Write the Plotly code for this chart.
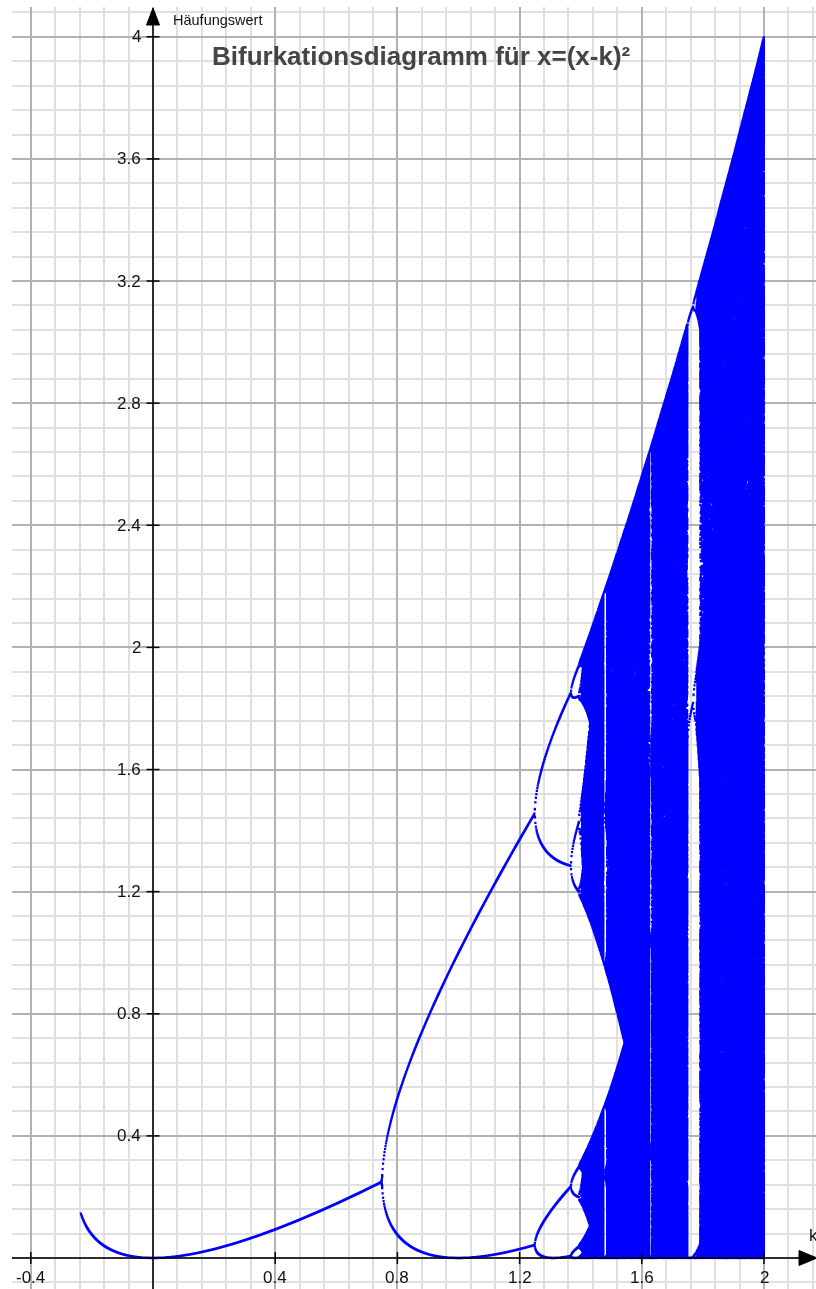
import numpy as np
import plotly.graph_objects as go

# ---------------- data ----------------
# bifurcation diagram of the map x -> (x - k)^2 (as stated in the chart title)
K_START = -0.236
K_END = 1.9995
K_COUNT = 1400
TRANSIENT_STEPS = 1000
KEEP_STEPS = 1600

x_tick_values = [-0.4, 0.4, 0.8, 1.2, 1.6, 2]
x_tick_labels = ["-0.4", "0.4", "0.8", "1.2", "1.6", "2"]
y_tick_values = [0.4, 0.8, 1.2, 1.6, 2, 2.4, 2.8, 3.2, 3.6, 4]
y_tick_labels = ["0.4", "0.8", "1.2", "1.6", "2", "2.4", "2.8", "3.2", "3.6", "4"]

title_text = "Bifurkationsdiagramm für x=(x-k)²"
y_axis_title = "Häufungswert"
x_axis_title = "k"

k_values = np.linspace(K_START, K_END, K_COUNT)
x_state = k_values.copy()          # start at the critical point
for _ in range(TRANSIENT_STEPS):
    x_state = (x_state - k_values) ** 2
orbit = np.empty((KEEP_STEPS, K_COUNT))
for i in range(KEEP_STEPS):
    x_state = (x_state - k_values) ** 2
    orbit[i] = x_state

kk = np.broadcast_to(k_values, orbit.shape).ravel()
xx = orbit.ravel()
# drop points that coincide at screen resolution
key = np.round(kk * 1000).astype(np.int64) * 100000 + np.round(xx * 305.3).astype(np.int64)
_, idx = np.unique(key, return_index=True)
k_pts = kk[idx].astype(np.float32)
x_pts = xx[idx].astype(np.float32)

# ---------------- layout helpers (pixel -> data) ----------------
W, H = 816, 1289
ML, MT = 12, 7
X0, SX = 153.0, 305.5
Y0, SY = 1258.0, 305.3


def px_x(p):
    return (p - X0) / SX


def px_y(p):
    return (Y0 - p) / SY


fig = go.Figure()
fig.add_trace(go.Scattergl(
    x=k_pts, y=x_pts, mode="markers",
    marker=dict(color="#0000ff", size=2.5, symbol="square", line=dict(width=0)),
    hoverinfo="skip", showlegend=False,
))

shapes = []
# axes lines
shapes.append(dict(type="line", xref="x", yref="y", x0=0, x1=0, y0=px_y(H + 5), y1=px_y(20),
                   line=dict(color="black", width=1.5), layer="above"))
shapes.append(dict(type="line", xref="x", yref="y", x0=px_x(ML), x1=px_x(805), y0=0, y1=0,
                   line=dict(color="black", width=1.5), layer="above"))
# arrows
shapes.append(dict(type="path", xref="x", yref="y",
                   path=f"M {px_x(153)} {px_y(8)} L {px_x(159.5)} {px_y(25)} L {px_x(146.5)} {px_y(25)} Z",
                   fillcolor="black", line=dict(color="black", width=1), layer="above"))
shapes.append(dict(type="path", xref="x", yref="y",
                   path=f"M {px_x(817)} {px_y(1258)} L {px_x(799)} {px_y(1250.5)} L {px_x(799)} {px_y(1265.5)} Z",
                   fillcolor="black", line=dict(color="black", width=1), layer="above"))
# tick marks
for v in y_tick_values:
    shapes.append(dict(type="line", xref="x", yref="y", x0=px_x(146.5), x1=px_x(159.5), y0=v, y1=v,
                       line=dict(color="black", width=1.5), layer="above"))
for v in x_tick_values:
    shapes.append(dict(type="line", xref="x", yref="y", x0=v, x1=v, y0=px_y(1252), y1=px_y(1264),
                       line=dict(color="black", width=1.5), layer="above"))

annotations = []
tick_font = dict(family="Liberation Sans, Arial, sans-serif", size=17, color="#111111")
for v, t in zip(y_tick_values, y_tick_labels):
    annotations.append(dict(x=px_x(143), y=v, xref="x", yref="y", text=t, showarrow=False,
                            xanchor="right", yanchor="middle", font=tick_font))
for v, t in zip(x_tick_values, x_tick_labels):
    annotations.append(dict(x=v, y=px_y(1277), xref="x", yref="y", text=t, showarrow=False,
                            xanchor="center", yanchor="middle", font=tick_font))
annotations.append(dict(x=px_x(171), y=px_y(20), xref="x", yref="y", text=y_axis_title, showarrow=False,
                        xanchor="left", yanchor="middle",
                        font=dict(family="Liberation Sans, Arial, sans-serif", size=14.5, color="#111111")))
annotations.append(dict(x=px_x(807), y=px_y(1235), xref="x", yref="y", text=x_axis_title, showarrow=False,
                        xanchor="left", yanchor="middle",
                        font=dict(family="Liberation Sans, Arial, sans-serif", size=17, color="#111111")))
annotations.append(dict(x=px_x(210), y=px_y(56), xref="x", yref="y", text="<b>" + title_text + "</b>",
                        showarrow=False, xanchor="left", yanchor="middle",
                        font=dict(family="Liberation Sans, Arial, sans-serif", size=26, color="#444444")))

axis_common = dict(showticklabels=False, ticks="", zeroline=False, showline=False,
                   gridcolor="#b2b2b2", gridwidth=2, fixedrange=True)
fig.update_layout(
    width=W, height=H,
    margin=dict(l=ML, r=0, t=MT, b=0, pad=0),
    paper_bgcolor="white", plot_bgcolor="white",
    xaxis=dict(range=[px_x(ML), px_x(W)], tick0=0, dtick=0.4,
               minor=dict(tick0=0, dtick=0.08, showgrid=True, gridcolor="#e0e0e0", gridwidth=1.5),
               **axis_common),
    yaxis=dict(range=[px_y(H), px_y(MT)], tick0=0, dtick=0.4,
               minor=dict(tick0=0, dtick=0.08, showgrid=True, gridcolor="#e0e0e0", gridwidth=1.5),
               **axis_common),
    shapes=shapes, annotations=annotations, showlegend=False,
)
fig.write_html("out.html")
